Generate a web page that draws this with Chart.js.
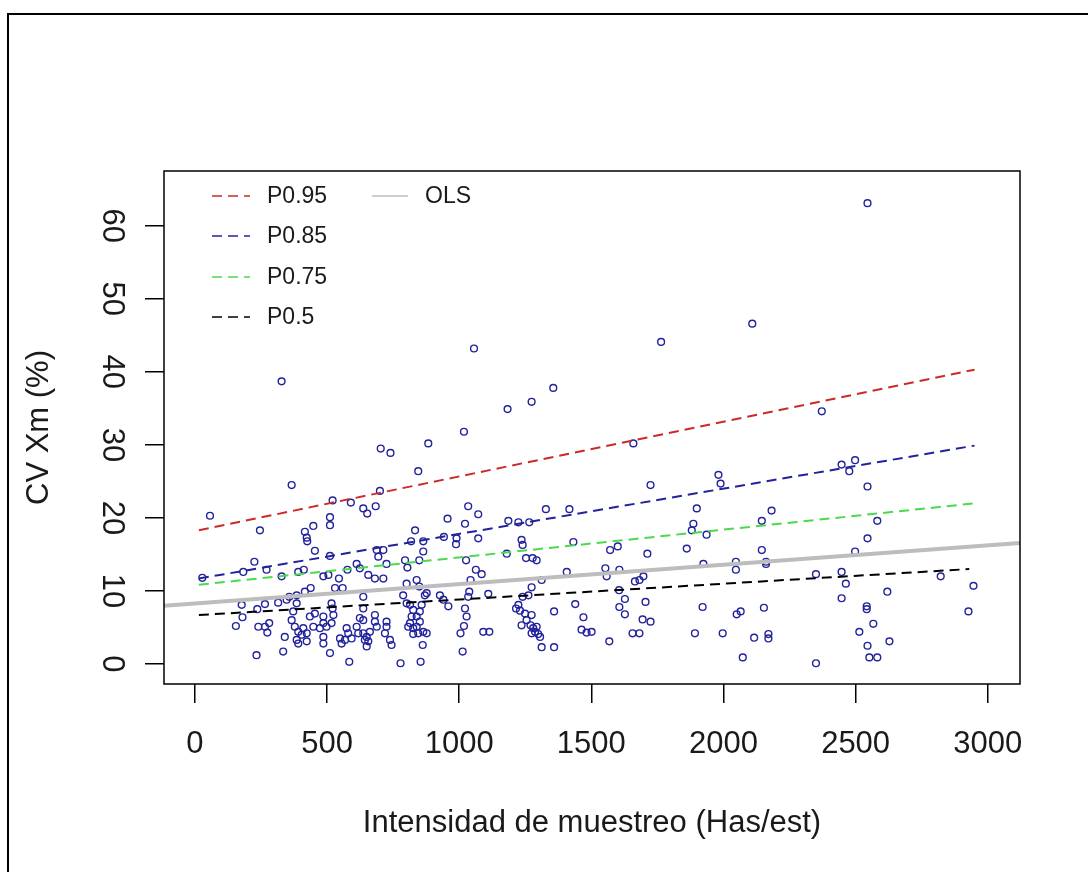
<!DOCTYPE html>
<html>
<head>
<meta charset="utf-8">
<script src="https://cdn.jsdelivr.net/npm/chart.js@4.4.0/dist/chart.umd.min.js"></script>
<style>
html,body{margin:0;padding:0;background:#fff;}
#wrap{position:relative;width:1088px;height:872px;overflow:hidden;background:#fff;}
#frame{position:absolute;left:7px;top:13px;width:1200px;height:1000px;border-left:2px solid #000;border-top:2px solid #000;}
#c{position:absolute;left:0;top:0;}
</style>
</head>
<body>
<div id="wrap"><div id="frame"></div><canvas id="c" width="1088" height="872"></canvas></div>
<script>
// ---- data ----
const xTickValues = [0, 500, 1000, 1500, 2000, 2500, 3000];
const xTickLabels = ['0', '500', '1000', '1500', '2000', '2500', '3000'];
const yTickValues = [0, 10, 20, 30, 40, 50, 60];
const yTickLabels = ['0', '10', '20', '30', '40', '50', '60'];
const seriesNames = ['P0.95', 'P0.85', 'P0.75', 'P0.5', 'OLS'];
const xTitle = 'Intensidad de muestreo (Has/est)';
const yTitle = 'CV Xm (%)';

const sampleX = [
366,57,246,521,590,637,652,684,700,511,511,448,416,423,425,454,833,956,688,713,694,818,864,864,849,511,225,28,183,271,
391,412,328,486,505,545,577,612,624,656,681,713,725,795,804,530,559,438,416,385,357,347,385,315,265,177,236,180,155,240,
265,281,274,340,233,334,511,584,778,854,862,372,366,378,391,410,404,423,385,423,391,448,473,486,498,517,524,521,517,486,
454,435,486,486,549,568,555,580,574,593,612,624,618,637,650,643,656,662,637,637,637,681,681,688,725,725,719,738,744,650,
788,801,814,826,820,814,826,839,851,845,864,877,826,807,839,851,858,870,877,927,940,959,801,839,849,
1724,1989,1034,1072,1022,1186,1224,1265,1328,1417,1899,1886,1880,942,990,988,1072,1236,1240,1432,1571,1600,1861,1936,1712,1180,1026,1253,1278,1293,
1063,1085,1043,1407,1553,1606,1558,1665,1682,1697,1924,2047,2047,1038,1034,1022,1028,1018,1005,1013,1110,1091,1114,1274,1262,1240,1312,1224,1215,1230,
1249,1274,1255,1236,1270,1280,1293,1287,1299,1306,1274,1312,1359,1359,1439,1470,1463,1482,1501,1568,1605,1627,1606,1627,1705,1694,1724,1656,1682,1921,
1892,1997,2050,
2545,2182,2145,2582,2545,2145,2161,2161,2498,2350,2447,2463,2822,2946,2620,2447,2065,2153,2542,2542,2927,2567,2514,2628,2116,2170,2170,2545,2552,2582,
2073,2350,
328,1056,1356,1274,1183,1018,883,703,740,845,
2545,2109,1764,2372,1659,1981,2447,2476,2498
];
const sampleY = [
24.5,20.3,18.3,22.4,22.1,21.3,20.6,21.6,23.7,20.1,19.0,18.9,18.1,17.3,16.8,15.5,18.3,19.9,15.6,15.6,14.7,16.8,16.8,15.4,14.2,14.8,14.0,11.8,12.6,12.9,
12.6,12.9,12.0,12.0,12.2,11.7,12.9,13.7,13.1,12.2,11.7,11.7,13.7,14.2,13.2,10.4,10.4,10.4,9.9,9.4,9.2,8.8,8.3,8.4,8.2,8.1,7.5,6.4,5.2,5.1,
5.1,5.6,4.3,3.7,1.2,1.7,1.5,0.3,0.1,0.3,2.6,7.2,6.0,5.1,4.4,4.9,4.0,4.2,3.3,3.1,2.8,5.1,4.9,5.6,5.1,5.6,6.7,7.6,8.3,6.5,
6.9,6.5,3.7,2.8,3.5,3.3,2.8,4.2,4.9,3.5,5.1,6.3,4.2,4.2,3.7,3.3,3.1,4.4,6.0,7.6,9.2,6.7,5.8,5.1,5.8,5.1,4.2,3.3,2.6,2.4,
9.4,8.3,8.1,7.4,6.5,5.6,4.9,5.1,5.8,4.2,4.4,4.2,4.1,5.1,6.5,7.2,8.1,9.4,9.7,9.4,8.8,7.9,11.0,11.5,10.6,
24.5,24.7,21.6,20.5,19.2,19.6,19.4,19.4,21.2,21.2,21.3,19.2,18.3,17.4,17.2,16.4,17.2,17.0,16.3,16.7,15.6,16.1,15.8,17.7,15.1,15.1,14.2,14.5,14.5,14.2,
12.9,12.3,11.5,12.6,13.1,12.9,12.0,11.3,11.5,12.0,13.7,14.0,12.9,9.9,9.2,7.6,6.5,5.2,4.2,1.7,9.6,4.4,4.4,10.5,9.4,9.2,11.5,8.1,7.6,7.3,
6.9,6.7,6.0,5.3,5.3,4.9,5.1,4.4,4.1,3.7,4.2,2.3,2.3,7.2,8.2,6.4,4.7,4.3,4.4,3.1,10.1,8.9,7.8,6.8,8.5,6.1,5.8,4.2,4.2,7.8,
4.2,4.2,6.8,
24.3,21.0,19.6,19.6,17.2,15.6,14.0,13.7,15.4,12.3,12.6,11.0,12.0,10.7,9.9,9.0,7.2,7.7,7.9,7.5,7.2,5.5,4.4,3.1,3.6,4.1,3.5,2.5,0.9,0.9,
0.9,0.1,
38.7,43.2,37.8,35.9,34.9,31.8,30.2,29.5,28.9,26.4,
63.1,46.6,44.1,34.6,30.2,25.9,27.3,26.4,27.9
];

// quantile regression lines (end points)
const quantX = [15, 2950];
const p95 = [18.3, 40.3];
const p85 = [11.7, 29.9];
const p75 = [10.85, 22.0];
const p50X = [15, 2930];
const p50 = [6.7, 13.0];
// OLS line spans the full plot width
const olsX = [-117, 3122];
const olsY = [7.98, 16.55];

// ---- build ----
const pts = (xs, ys) => xs.map((x, i) => ({x: x, y: ys[i]}));
const FONT = "'Liberation Sans', Arial, sans-serif";
const C_BLUE = '#22229c', C_RED = '#cc2a2a', C_GREEN = '#4cd94c', C_BLACK = '#000000', C_GREY = '#bdbdbd';
const DASH = [10, 6];

const boxPlugin = {
  id: 'rbox',
  afterDraw(chart) {
    const {ctx, chartArea: a} = chart;
    ctx.save();
    ctx.strokeStyle = '#000';
    ctx.lineWidth = 1.5;
    ctx.strokeRect(a.left, a.top, a.right - a.left, a.bottom - a.top);
    ctx.restore();
  }
};

const legendPlugin = {
  id: 'rlegend',
  afterDraw(chart) {
    const ctx = chart.ctx;
    const slots = [
      {ds: 0, x: 212, y: 196, w: 38},
      {ds: 1, x: 212, y: 236, w: 38},
      {ds: 2, x: 212, y: 277, w: 38},
      {ds: 3, x: 212, y: 317, w: 38},
      {ds: 4, x: 372, y: 196, w: 36}
    ];
    ctx.save();
    ctx.font = '23px ' + FONT;
    ctx.textBaseline = 'middle';
    ctx.textAlign = 'left';
    slots.forEach(s => {
      const d = chart.data.datasets[s.ds];
      ctx.strokeStyle = d.borderColor;
      ctx.lineWidth = d.legendWidth;
      ctx.setLineDash(d.borderDash || []);
      ctx.beginPath();
      ctx.moveTo(s.x, s.y);
      ctx.lineTo(s.x + s.w, s.y);
      ctx.stroke();
      ctx.setLineDash([]);
      ctx.fillStyle = '#1a1a1a';
      ctx.fillText(d.label, s.x + s.w + 17, s.y + 1);
    });
    ctx.restore();
  }
};

const lineDs = (label, xs, ys, color, order) => ({
  type: 'line', label: label, data: pts(xs, ys), borderColor: color, borderWidth: 2,
  borderDash: DASH, pointRadius: 0, fill: false, tension: 0, order: order, legendWidth: 1.6
});

new Chart(document.getElementById('c'), {
  type: 'scatter',
  data: {
    datasets: [
      lineDs(seriesNames[0], quantX, p95, C_RED, 1),
      lineDs(seriesNames[1], quantX, p85, C_BLUE, 1),
      lineDs(seriesNames[2], quantX, p75, C_GREEN, 1),
      lineDs(seriesNames[3], p50X, p50, C_BLACK, 1),
      {type: 'line', label: seriesNames[4], data: pts(olsX, olsY), borderColor: C_GREY, borderWidth: 4,
       pointRadius: 0, fill: false, order: 2, legendWidth: 1.6},
      {type: 'scatter', label: 'datos', data: pts(sampleX, sampleY), showLine: false,
       pointStyle: 'circle', pointRadius: 3.4, pointBorderWidth: 1.4, borderWidth: 1.4,
       borderColor: C_BLUE, backgroundColor: 'rgba(0,0,0,0)', order: 3}
    ]
  },
  options: {
    responsive: false,
    devicePixelRatio: 1,
    animation: false,
    layout: {padding: {top: 171, right: 68, left: 0, bottom: 0}},
    plugins: {legend: {display: false}, tooltip: {enabled: false}},
    scales: {
      x: {
        type: 'linear', position: 'bottom', min: -117, max: 3122,
        afterBuildTicks: s => { s.ticks = xTickValues.map(v => ({value: v})); },
        afterFit: s => { s.height = 188; },
        grid: {drawOnChartArea: false, drawTicks: true, tickLength: 19, color: '#000', tickColor: '#000', lineWidth: 1.5, tickWidth: 1.5},
        border: {display: false},
        ticks: {
          autoSkip: false, maxRotation: 0, minRotation: 0, padding: 23, color: '#1a1a1a',
          font: {family: FONT, size: 31},
          callback: v => xTickLabels[xTickValues.indexOf(v)]
        },
        title: {display: true, text: xTitle, color: '#1a1a1a', font: {family: FONT, size: 31}, padding: {top: 0, bottom: 30}}
      },
      y: {
        type: 'linear', position: 'left', min: -2.74, max: 67.5,
        afterBuildTicks: s => { s.ticks = yTickValues.map(v => ({value: v})); },
        afterFit: s => { s.width = 164; },
        grid: {drawOnChartArea: false, drawTicks: true, tickLength: 19, color: '#000', tickColor: '#000', lineWidth: 1.5, tickWidth: 1.5},
        border: {display: false},
        ticks: {
          autoSkip: false, minRotation: -90, maxRotation: -90, crossAlign: 'center', padding: 16, color: '#1a1a1a',
          font: {family: FONT, size: 31},
          callback: v => yTickLabels[yTickValues.indexOf(v)]
        },
        title: {display: true, text: yTitle, color: '#1a1a1a', font: {family: FONT, size: 31}, padding: {top: 21, bottom: 0}}
      }
    }
  },
  plugins: [boxPlugin, legendPlugin]
});
</script>
</body>
</html>
